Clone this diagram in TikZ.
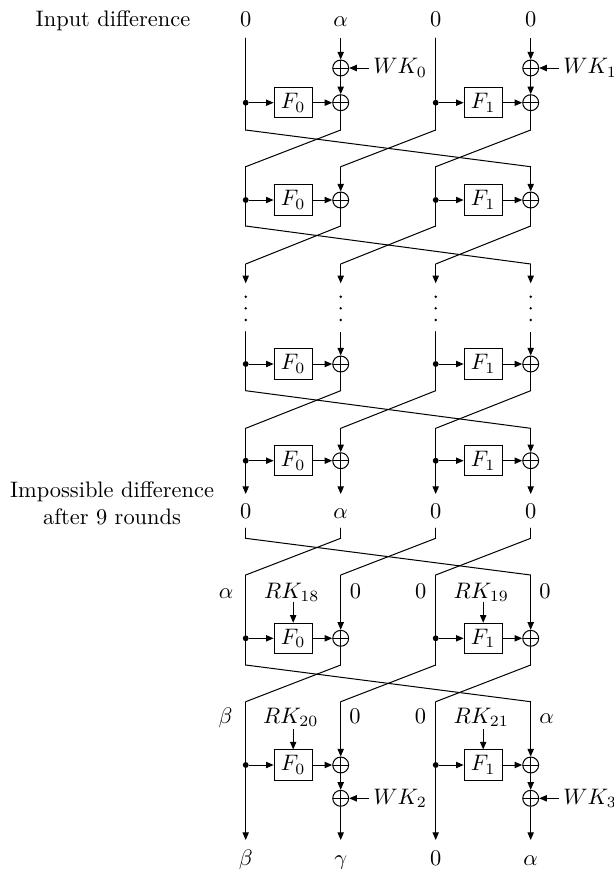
\documentclass[tikz,border=0pt]{standalone}
\usetikzlibrary{arrows.meta}
\def\pcA{245.7}
\def\pcB{340.7}
\def\pcC{435.7}
\def\pcD{530.7}
\def\pbA{293.2}
\def\pbB{483.2}
\tikzset{
  ln/.style={line width=0.45pt, line cap=round, line join=round},
  arr/.style={ln, line cap=butt, -{Stealth[length=3.4pt,width=2.8pt,inset=0pt]}},
  fbox/.style={draw, line width=0.45pt, minimum width=17pt, minimum height=13.4pt, inner sep=0pt},
  xorn/.style={circle, draw, line width=0.45pt, minimum size=7.1pt, inner sep=0pt,
    path picture={\draw[line width=0.45pt] (path picture bounding box.north) -- (path picture bounding box.south)
      (path picture bounding box.west) -- (path picture bounding box.east);}},
  dotn/.style={circle, fill, minimum size=2.6pt, inner sep=0pt},
  lbl/.style={anchor=base, inner sep=0pt},
  wkl/.style={anchor=west, inner sep=2pt},
}
\newcommand{\fround}[2]{%
  \node[dotn] (d#1a) at (\pcA,#2) {};
  \node[fbox] (f#1a) at (\pbA,#2) {$F_0$};
  \node[xorn] (x#1a) at (\pcB,#2) {};
  \node[dotn] (d#1b) at (\pcC,#2) {};
  \node[fbox] (f#1b) at (\pbB,#2) {$F_1$};
  \node[xorn] (x#1b) at (\pcD,#2) {};
  \draw[arr] (d#1a) -- (f#1a);
  \draw[arr] (f#1a) -- (x#1a);
  \draw[arr] (d#1b) -- (f#1b);
  \draw[arr] (f#1b) -- (x#1b);
}
\newcommand{\fperm}[3]{%
  \coordinate (u#1a) at (\pcA,#2);
  \coordinate (u#1b) at (\pcB,#2);
  \coordinate (u#1c) at (\pcC,#2);
  \coordinate (u#1d) at (\pcD,#2);
  \coordinate (l#1a) at (\pcA,#3);
  \coordinate (l#1b) at (\pcB,#3);
  \coordinate (l#1c) at (\pcC,#3);
  \coordinate (l#1d) at (\pcD,#3);
  \draw[ln] (u#1a) -- (l#1d);
  \draw[ln] (u#1b) -- (l#1a);
  \draw[ln] (u#1c) -- (l#1b);
  \draw[ln] (u#1d) -- (l#1c);
}
\begin{document}
\begin{tikzpicture}[x=0.446pt, y=-0.446pt]
\useasboundingbox (0,0) rectangle (613,869);

% ---------- top ----------
\node[lbl] (inlab) at (113,26) {Input difference};
\node[lbl] (in0) at (\pcA,26) {$0$};
\node[lbl] (in1) at (\pcB,26) {$\alpha$};
\node[lbl] (in2) at (\pcC,26) {$0$};
\node[lbl] (in3) at (\pcD,26) {$0$};
\coordinate (s0) at (\pcA,38);
\coordinate (s1) at (\pcB,38);
\coordinate (s2) at (\pcC,38);
\coordinate (s3) at (\pcD,38);
\node[xorn] (wa) at (\pcB,68) {};
\node[xorn] (wb) at (\pcD,68) {};
\node[wkl] (wk0) at (368.5,68) {$WK_0$};
\node[wkl] (wk1) at (558.5,68) {$WK_1$};
\draw[arr] (wk0) -- (wa);
\draw[arr] (wk1) -- (wb);

% ---------- round 1 ----------
\fround{1}{102.7}
\fperm{1}{130}{166.7}
\draw[ln] (s0) -- (u1a);
\draw[arr] (s1) -- (wa);
\draw[arr] (wa) -- (x1a);
\draw[ln] (x1a) -- (u1b);
\draw[ln] (s2) -- (u1c);
\draw[arr] (s3) -- (wb);
\draw[arr] (wb) -- (x1b);
\draw[ln] (x1b) -- (u1d);

% ---------- round 2 ----------
\fround{2}{200}
\fperm{2}{226}{264}
\draw[ln] (l1a) -- (u2a);
\draw[arr] (l1b) -- (x2a);
\draw[ln] (x2a) -- (u2b);
\draw[ln] (l1c) -- (u2c);
\draw[arr] (l1d) -- (x2b);
\draw[ln] (x2b) -- (u2d);
\coordinate (e2a) at (\pcA,283.3);
\coordinate (e2b) at (\pcB,283.3);
\coordinate (e2c) at (\pcC,283.3);
\coordinate (e2d) at (\pcD,283.3);
\draw[arr] (l2a) -- (e2a);
\draw[arr] (l2b) -- (e2b);
\draw[arr] (l2c) -- (e2c);
\draw[arr] (l2d) -- (e2d);

% ---------- vertical dots ----------
\foreach \c in {\pcA,\pcB,\pcC,\pcD}
  \foreach \yy in {296.7,308.3,320}
    \fill (\c,\yy) circle (0.6pt);

% ---------- round 3 ----------
\coordinate (t3a) at (\pcA,331.7);
\coordinate (t3b) at (\pcB,331.7);
\coordinate (t3c) at (\pcC,331.7);
\coordinate (t3d) at (\pcD,331.7);
\fround{3}{364}
\fperm{3}{390.7}{428.3}
\draw[ln] (t3a) -- (u3a);
\draw[arr] (t3b) -- (x3a);
\draw[ln] (x3a) -- (u3b);
\draw[ln] (t3c) -- (u3c);
\draw[arr] (t3d) -- (x3b);
\draw[ln] (x3b) -- (u3d);

% ---------- round 4 ----------
\fround{4}{460.7}
\coordinate (e4a) at (\pcA,494);
\coordinate (e4b) at (\pcB,494);
\coordinate (e4c) at (\pcC,494);
\coordinate (e4d) at (\pcD,494);
\draw[arr] (l3a) -- (e4a);
\draw[arr] (l3b) -- (x4a);
\draw[arr] (x4a) -- (e4b);
\draw[arr] (l3c) -- (e4c);
\draw[arr] (l3d) -- (x4b);
\draw[arr] (x4b) -- (e4d);

\node[lbl] (m0) at (\pcA,518.3) {$0$};
\node[lbl] (m1) at (\pcB,518.3) {$\alpha$};
\node[lbl] (m2) at (\pcC,518.3) {$0$};
\node[lbl] (m3) at (\pcD,518.3) {$0$};
\node[lbl] (imp1) at (112,497.5) {Impossible difference};
\node[lbl] (imp2) at (112,524.5) {after 9 rounds};

% ---------- round 5 ----------
\coordinate (t5a) at (\pcA,528);
\coordinate (t5b) at (\pcB,528);
\coordinate (t5c) at (\pcC,528);
\coordinate (t5d) at (\pcD,528);
\fperm{5}{538.3}{575}
\draw[ln] (t5a) -- (u5a);
\draw[ln] (t5b) -- (u5b);
\draw[ln] (t5c) -- (u5c);
\draw[ln] (t5d) -- (u5d);
\node[lbl] (p0) at (226,598) {$\alpha$};
\node[lbl] (p1) at (355.5,598) {$0$};
\node[lbl] (p2) at (420.8,598) {$0$};
\node[lbl] (p3) at (545,598) {$0$};
\node[lbl] (rk18) at (291.7,598) {$RK_{18}$};
\node[lbl] (rk19) at (481.2,598) {$RK_{19}$};
\coordinate (k5a) at (\pbA,601.7);
\coordinate (k5b) at (\pbB,601.7);
\fround{5}{638.3}
\draw[arr] (k5a) -- (f5a);
\draw[arr] (k5b) -- (f5b);
\fperm{6}{665}{701.7}
\draw[ln] (l5a) -- (u6a);
\draw[arr] (l5b) -- (x5a);
\draw[ln] (x5a) -- (u6b);
\draw[ln] (l5c) -- (u6c);
\draw[arr] (l5d) -- (x5b);
\draw[ln] (x5b) -- (u6d);

% ---------- round 6 ----------
\node[lbl] (q0) at (225.5,723.3) {$\beta$};
\node[lbl] (q1) at (355,723.3) {$0$};
\node[lbl] (q2) at (420.5,723.3) {$0$};
\node[lbl] (q3) at (546.7,723.3) {$\alpha$};
\node[lbl] (rk20) at (290.7,723.3) {$RK_{20}$};
\node[lbl] (rk21) at (481.2,723.3) {$RK_{21}$};
\coordinate (k6a) at (\pbA,729);
\coordinate (k6b) at (\pbB,729);
\fround{6}{765}
\draw[arr] (k6a) -- (f6a);
\draw[arr] (k6b) -- (f6b);
\node[xorn] (wc) at (\pcB,798.3) {};
\node[xorn] (wd) at (\pcD,798.3) {};
\node[wkl] (wk2) at (368.5,798.3) {$WK_2$};
\node[wkl] (wk3) at (558.5,798.3) {$WK_3$};
\draw[arr] (wk2) -- (wc);
\draw[arr] (wk3) -- (wd);
\coordinate (e6a) at (\pcA,840);
\coordinate (e6b) at (\pcB,840);
\coordinate (e6c) at (\pcC,840);
\coordinate (e6d) at (\pcD,840);
\draw[arr] (l6a) -- (e6a);
\draw[arr] (l6b) -- (x6a);
\draw[arr] (x6a) -- (wc);
\draw[arr] (wc) -- (e6b);
\draw[arr] (l6c) -- (e6c);
\draw[arr] (l6d) -- (x6b);
\draw[arr] (x6b) -- (wd);
\draw[arr] (wd) -- (e6d);

\node[lbl] (o0) at (\pcA,865.5) {$\beta$};
\node[lbl] (o1) at (\pcB,865.5) {$\gamma$};
\node[lbl] (o2) at (\pcC,865.5) {$0$};
\node[lbl] (o3) at (\pcD,865.5) {$\alpha$};
\end{tikzpicture}
\end{document}
